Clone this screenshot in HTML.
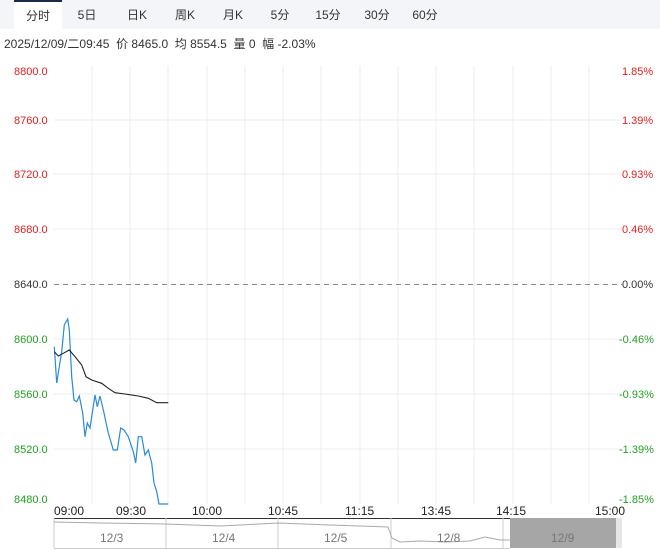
<!DOCTYPE html>
<html><head><meta charset="utf-8"><style>
body{margin:0;width:660px;height:550px;background:#fff;overflow:hidden;font-family:"Liberation Sans","Noto Sans CJK SC",sans-serif;}
.tabs{position:absolute;left:0;top:0;width:660px;height:29px;background:#f3f5f8;}
.tab{position:absolute;top:0;height:29px;line-height:30px;font-size:12px;color:#333;text-align:center;}
.act{background:#fff;border-top:2px solid #1a2a4a;height:27px;line-height:28px;}
.info{position:absolute;left:4px;top:35px;font-size:12px;color:#333;}
svg{position:absolute;left:0;top:0}
</style></head><body>
<div class="tabs">
<div class="tab act" style="left:14px;width:48px">分时</div>
<div class="tab" style="left:70px;width:34px">5日</div>
<div class="tab" style="left:120px;width:34px">日K</div>
<div class="tab" style="left:168px;width:34px">周K</div>
<div class="tab" style="left:216px;width:34px">月K</div>
<div class="tab" style="left:263px;width:34px">5分</div>
<div class="tab" style="left:311px;width:34px">15分</div>
<div class="tab" style="left:360px;width:34px">30分</div>
<div class="tab" style="left:408px;width:34px">60分</div>
</div>
<div class="info">2025/12/09/二09:45&nbsp; 价 8465.0&nbsp; 均 8554.5&nbsp; 量 0&nbsp; 幅 -2.03%</div>
<svg width="660" height="550" font-family="Liberation Sans, sans-serif" font-size="11">
<g stroke="#ececec" stroke-width="1">
<line x1="92" y1="66" x2="92" y2="504"/><line x1="130" y1="66" x2="130" y2="504"/><line x1="168" y1="66" x2="168" y2="504"/><line x1="207" y1="66" x2="207" y2="504"/><line x1="245" y1="66" x2="245" y2="504"/><line x1="283" y1="66" x2="283" y2="504"/><line x1="321" y1="66" x2="321" y2="504"/><line x1="360" y1="66" x2="360" y2="504"/><line x1="398" y1="66" x2="398" y2="504"/><line x1="436" y1="66" x2="436" y2="504"/><line x1="474" y1="66" x2="474" y2="504"/><line x1="513" y1="66" x2="513" y2="504"/><line x1="551" y1="66" x2="551" y2="504"/><line x1="589" y1="66" x2="589" y2="504"/>
<line x1="54" y1="120" x2="622" y2="120"/><line x1="54" y1="174" x2="622" y2="174"/><line x1="54" y1="229" x2="622" y2="229"/><line x1="54" y1="339" x2="622" y2="339"/><line x1="54" y1="394" x2="622" y2="394"/><line x1="54" y1="449" x2="622" y2="449"/>
</g>
<line x1="54" y1="284.5" x2="622" y2="284.5" stroke="#888" stroke-dasharray="5,4"/>
<g fill="#e02020"><text x="14" y="75">8800.0</text><text x="14" y="124">8760.0</text><text x="14" y="178">8720.0</text><text x="14" y="233">8680.0</text>
<text x="622" y="75">1.85%</text><text x="622" y="124">1.39%</text><text x="622" y="178">0.93%</text><text x="622" y="233">0.46%</text></g>
<text x="14" y="288" fill="#333">8640.0</text><text x="622" y="288" fill="#333">0.00%</text>
<g fill="#22a022"><text x="14" y="343">8600.0</text><text x="14" y="398">8560.0</text><text x="14" y="453">8520.0</text><text x="14" y="503">8480.0</text>
<text x="619" y="343">-0.46%</text><text x="619" y="398">-0.93%</text><text x="619" y="453">-1.39%</text><text x="619" y="503">-1.85%</text></g>
<polyline fill="none" stroke="#2a8ad8" stroke-width="1.2" points="54.3,346.7 56.7,383 61.7,351.7 64.3,325 67.7,319 69.3,330 71.7,376.7 74,400 76.7,401.7 79.3,396 82.7,413 85,436.7 87.3,423 90,428 95,395 97.3,406.7 100,396 104,413 108.3,433 113.3,450 117.3,450 120.7,428 124,430 128.3,436.7 133.3,451.7 135.7,463 138.3,436.7 141.7,436.7 145,455 148.3,450 151.7,463 154,483 156.7,491.7 159,504 168.3,504"/>
<polyline fill="none" stroke="#222" stroke-width="1.1" points="54.3,351.7 58.3,356 63.3,353.3 69.3,350 75,356.7 81.7,365 86,376.7 91.7,380 101.7,383.3 108.3,388.3 115,392.7 125,394 138.3,396 148.3,398.3 156.7,402.7 168.3,402.7"/>
<g fill="#222" font-size="12"><text x="54" y="515">09:00</text><text x="116" y="515">09:30</text><text x="192" y="515">10:00</text><text x="268" y="515">10:45</text><text x="345" y="515">11:15</text><text x="421" y="515">13:45</text><text x="496" y="515">14:15</text><text x="595" y="515">15:00</text></g>
<rect x="510" y="518" width="106" height="30" fill="#a6a6a6"/>
<rect x="616" y="518" width="6" height="30" fill="#e6e6e6"/>
<line x1="54" y1="518.5" x2="510" y2="518.5" stroke="#333"/>
<g stroke="#ccc"><line x1="54" y1="518" x2="54" y2="548"/><line x1="166" y1="518" x2="166" y2="548"/><line x1="278" y1="518" x2="278" y2="548"/><line x1="391" y1="518" x2="391" y2="548"/><line x1="503" y1="518" x2="503" y2="548"/><line x1="54" y1="548.5" x2="510" y2="548.5"/></g>
<polyline fill="none" stroke="#aaa" points="54,522 100,523 166,524 220,526 278,523 330,525 388,527 392,538 400,542 420,541 445,542 470,541 485,537 500,540 510,540"/>
<g fill="#777" font-size="12"><text x="100" y="542">12/3</text><text x="212" y="542">12/4</text><text x="324" y="542">12/5</text><text x="437" y="542">12/8</text><text x="551" y="542">12/9</text></g>
</svg>
</body></html>
